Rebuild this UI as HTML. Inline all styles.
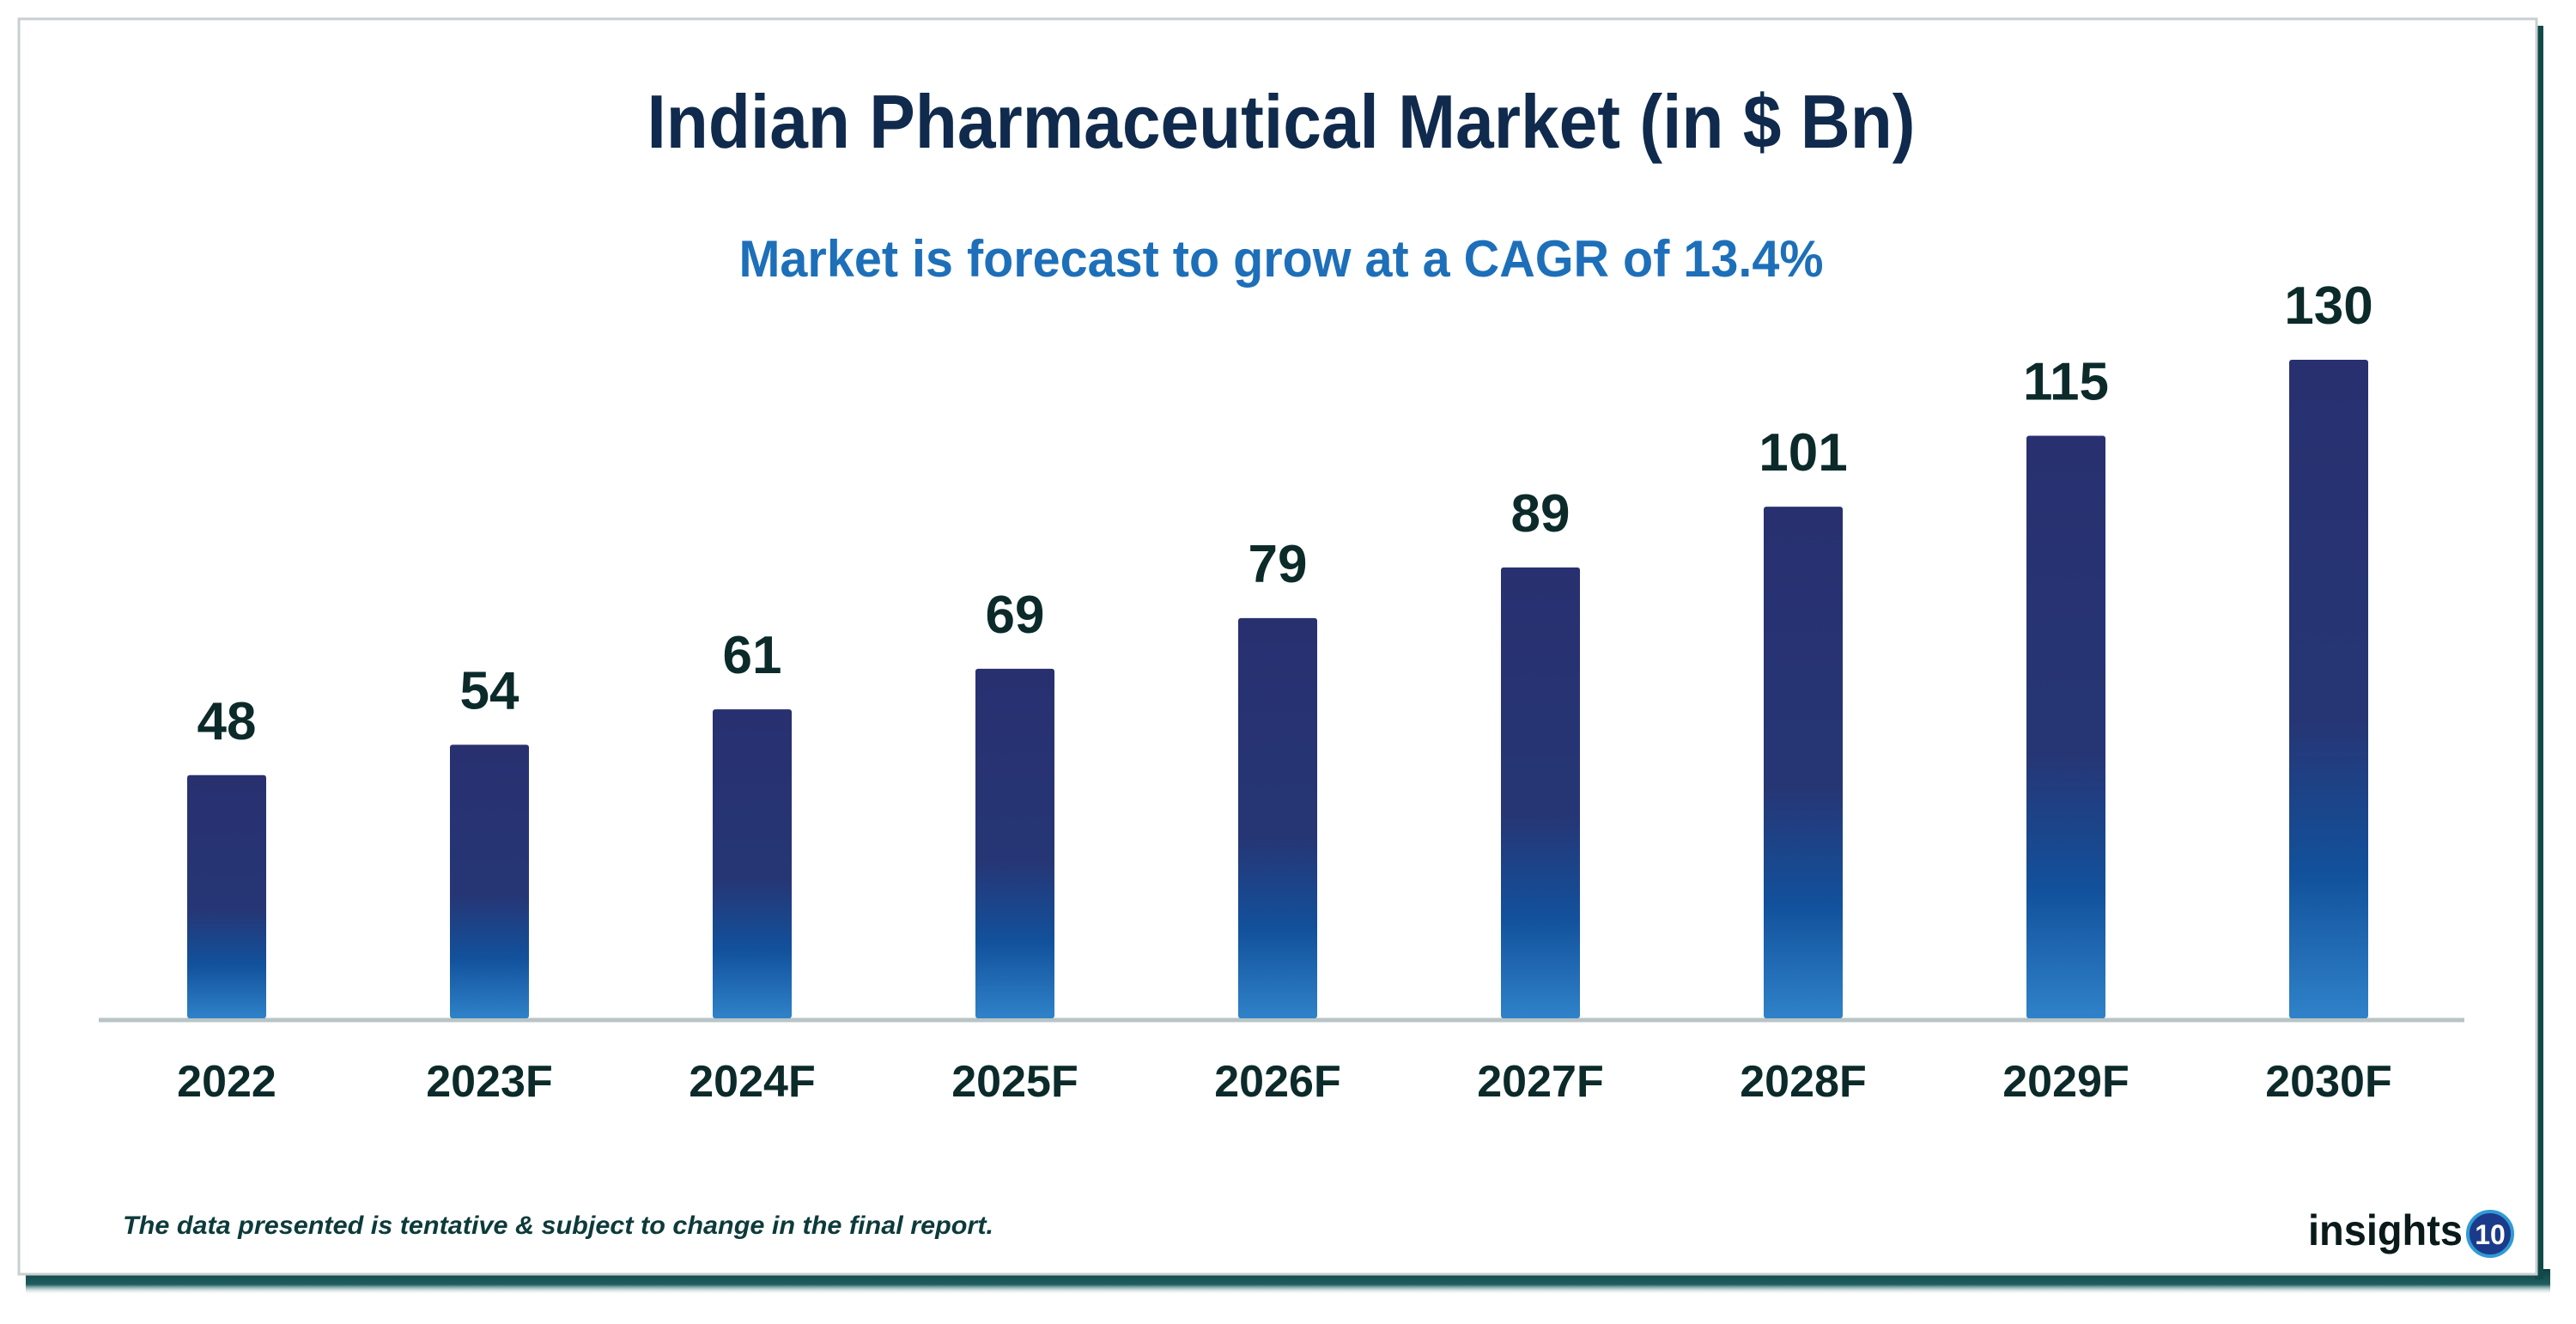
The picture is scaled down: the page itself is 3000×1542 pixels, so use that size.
<!DOCTYPE html>
<html><head><meta charset="utf-8"><style>
html,body{margin:0;padding:0;background:#fff;}
svg{display:block;}
</style></head><body>
<svg id="chart" width="3000" height="1542" viewBox="0 0 3000 1542" xmlns="http://www.w3.org/2000/svg">
<defs>
<linearGradient id="barGrad" x1="0" y1="0" x2="0" y2="1">
<stop offset="0" stop-color="#283070"/>
<stop offset="0.55" stop-color="#263675"/>
<stop offset="0.78" stop-color="#12519c"/>
<stop offset="1" stop-color="#2f82c9"/>
</linearGradient>
<linearGradient id="shadowGrad" x1="0" y1="0" x2="0" y2="1">
<stop offset="0" stop-color="#0f3f40"/>
<stop offset="0.6" stop-color="#1f5f5f"/>
<stop offset="1" stop-color="#ffffff" stop-opacity="0"/>
</linearGradient>
</defs>
<rect x="30" y="1478" width="2940" height="30" fill="url(#shadowGrad)"/>
<rect x="2952" y="30" width="10" height="1460" fill="#124a4a"/>
<rect x="22" y="22" width="2932" height="1462" fill="#fff" stroke="#c8cfd0" stroke-width="3"/>
<text x="1492" y="172" text-anchor="middle" font-family="Liberation Sans, sans-serif" font-weight="bold" font-size="88" fill="#0f2a4c" textLength="1477" lengthAdjust="spacingAndGlyphs">Indian Pharmaceutical Market (in $ Bn)</text>
<text x="1492" y="322" text-anchor="middle" font-family="Liberation Sans, sans-serif" font-weight="bold" font-size="60" fill="#1d6fb9" textLength="1263" lengthAdjust="spacingAndGlyphs">Market is forecast to grow at a CAGR of 13.4%</text>
<line x1="115" y1="1188" x2="2870" y2="1188" stroke="#b9c4c6" stroke-width="5"/>
<g id="bars"></g>
<text x="143" y="1437" font-family="Liberation Sans, sans-serif" font-style="italic" font-weight="bold" font-size="30" fill="#0d3a3a" textLength="1014" lengthAdjust="spacingAndGlyphs">The data presented is tentative &amp; subject to change in the final report.</text>
<text x="2688" y="1450" font-family="Liberation Sans, sans-serif" font-weight="bold" font-size="50" fill="#0a1a1a" textLength="180" lengthAdjust="spacingAndGlyphs">insights</text>
<circle cx="2900" cy="1437" r="26" fill="#1c3a8a" stroke="#2f9ad8" stroke-width="4"/>
<text x="2900" y="1449" text-anchor="middle" font-family="Liberation Sans, sans-serif" font-weight="bold" font-size="32" fill="#fff">10</text>
</svg>
<script>
const categories = ["2022","2023F","2024F","2025F","2026F","2027F","2028F","2029F","2030F"];
const values = [48, 54, 61, 69, 79, 89, 101, 115, 130];
const valueLabels = ["48","54","61","69","79","89","101","115","130"];
const NS = "http://www.w3.org/2000/svg";
const baseY = 1186, pxPerUnit = 5.9, firstX = 264, step = 306, barW = 92;
function xScale(i){ return firstX + i * step; }
function yScale(v){ return baseY - v * pxPerUnit; }
const g = document.getElementById('bars');
categories.forEach((c, i) => {
  const cx = xScale(i), top = yScale(values[i]);
  const r = document.createElementNS(NS, 'rect');
  r.setAttribute('x', cx - barW/2);
  r.setAttribute('y', top);
  r.setAttribute('width', barW);
  r.setAttribute('height', baseY - top);
  r.setAttribute('rx', 3);
  r.setAttribute('fill', 'url(#barGrad)');
  
  
  g.appendChild(r);
  const t = document.createElementNS(NS, 'text');
  t.setAttribute('x', cx);
  t.setAttribute('y', top - 42);
  t.setAttribute('text-anchor', 'middle');
  t.setAttribute('font-family', 'Liberation Sans, sans-serif');
  t.setAttribute('font-weight', 'bold');
  t.setAttribute('font-size', '62');
  t.setAttribute('fill', '#0c2a2a');
  t.textContent = valueLabels[i];
  
  
  g.appendChild(t);
  const xl = document.createElementNS(NS, 'text');
  xl.setAttribute('x', cx);
  xl.setAttribute('y', 1277);
  xl.setAttribute('text-anchor', 'middle');
  xl.setAttribute('font-family', 'Liberation Sans, sans-serif');
  xl.setAttribute('font-weight', 'bold');
  xl.setAttribute('font-size', '52');
  xl.setAttribute('fill', '#0c2a2a');
  xl.textContent = c;
  
  
  g.appendChild(xl);
});
</script>
</body></html>
